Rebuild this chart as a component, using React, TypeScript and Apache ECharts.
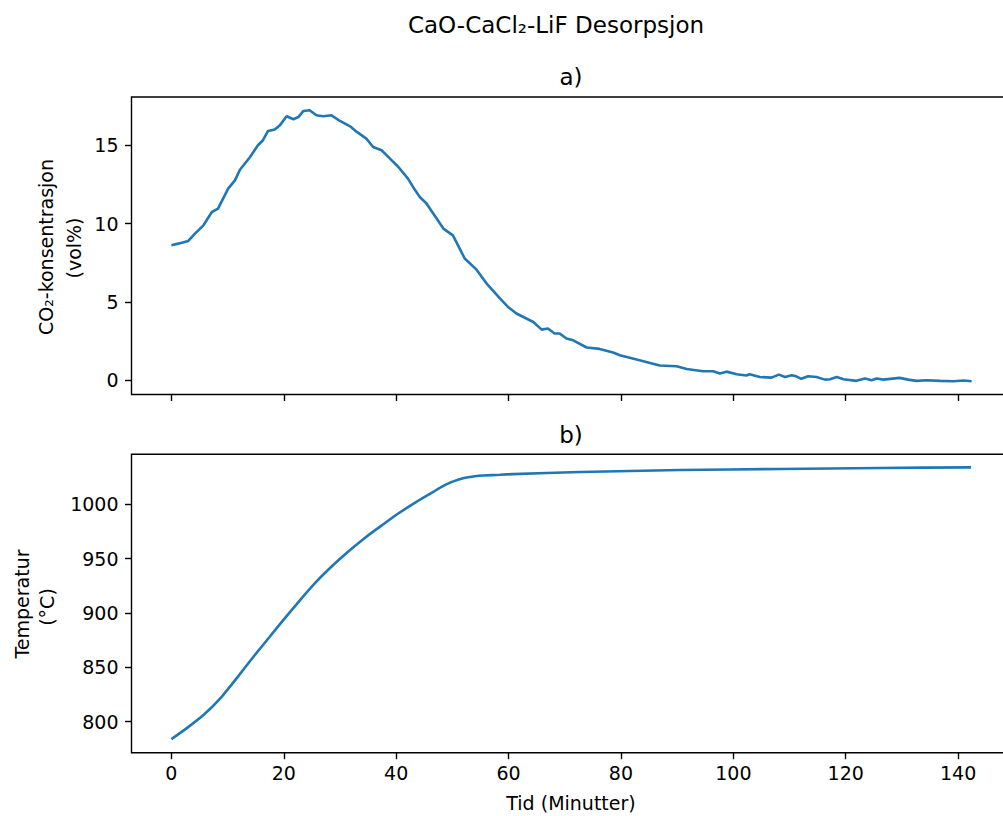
import React, { useEffect, useRef } from "react";
import * as echarts from "echarts";

// CO2 concentration (vol%) vs time (min)
const concTime = [
  0, 1.2, 3.0, 4.2, 5.7, 7.2, 8.3, 10.1, 11.3, 12.2, 14.0, 15.4, 16.3, 17.2, 18.4, 19.3,
  20.5, 21.7, 22.6, 23.5, 24.6, 25.8, 27.0, 28.5, 30.0, 31.8, 33.0, 34.7, 35.9, 37.4, 38.9,
  40.4, 42.1, 43.0, 44.2, 45.4, 46.2, 47.2, 48.4, 50.1, 52.2, 54.3, 56.1, 58.5, 59.9, 61.4,
  64.4, 65.9, 67.0, 68.2, 69.1, 70.3, 71.5, 73.9, 76.2, 78.6, 79.8, 82.8, 85.7, 86.9, 89.9,
  91.7, 94.6, 96.4, 97.6, 98.8, 100.6, 102.3, 102.9, 104.7, 106.8, 108.1, 109.2, 110.4,
  111.2, 112.1, 113.3, 114.8, 116.3, 117.2, 118.4, 119.6, 121.9, 123.4, 124.6, 125.5, 126.7,
  129.6, 131.1, 132.6, 134.4, 136.8, 139.2, 141.0, 142.4,
];
const concValue = [
  8.62, 8.72, 8.89, 9.36, 9.89, 10.74, 10.95, 12.23, 12.76, 13.44, 14.25, 15.0, 15.32, 15.91, 16.0, 16.27,
  16.85, 16.66, 16.8, 17.19, 17.23, 16.91, 16.85, 16.91, 16.55, 16.21, 15.85, 15.42, 14.89, 14.68, 14.15,
  13.61, 12.87, 12.34, 11.7, 11.28, 10.85, 10.32, 9.68, 9.25, 7.77, 7.06, 6.17, 5.21, 4.68, 4.26,
  3.72, 3.23, 3.3, 2.98, 2.98, 2.66, 2.55, 2.09, 2.0, 1.77, 1.6, 1.32, 1.06, 0.94, 0.89,
  0.72, 0.57, 0.57, 0.43, 0.55, 0.38, 0.3, 0.38, 0.21, 0.17, 0.36, 0.21, 0.32,
  0.25, 0.09, 0.26, 0.21, 0.04, 0.06, 0.21, 0.06, -0.04, 0.11, 0.0, 0.11, 0.04,
  0.15, 0.04, -0.04, 0.0, -0.04, -0.06, -0.02, -0.06,
];

// Temperature (°C) vs time (min)
const tempTime = [
  0, 2.7, 5.7, 8.7, 11.6, 14.6, 17.5, 19.9, 22.9, 25.8, 28.8, 31.8, 34.7, 37.7, 40.1,
  43.6, 46.6, 48.0, 49.6, 51.0, 52.5, 54.0, 55.5, 58.5, 60.8, 72.7, 90.5, 108.3, 126.1, 142.3,
];
const tempValue = [
  784.0, 793.9, 806.1, 821.5, 839.9, 859.8, 878.2, 893.5, 911.9, 928.8, 944.1, 957.9, 970.2, 981.6, 990.6,
  1002.2, 1011.4, 1015.8, 1019.9, 1022.6, 1024.6, 1025.8, 1026.5, 1027.2, 1027.8, 1029.7, 1031.6, 1032.5, 1033.4, 1034.0,
];

const xTicks = [0, 20, 40, 60, 80, 100, 120, 140];
const concTicks = [0, 5, 10, 15];
const tempTicks = [800, 850, 900, 950, 1000];

const FONT = "DejaVu Sans";
const LINE = "#1f77b4";

export default function App() {
  const ref = useRef<HTMLDivElement>(null);

  useEffect(() => {
    if (!ref.current) return;
    const chart = echarts.init(ref.current, null, { renderer: "svg" });

    const fmt = (v: number) => String(v);

    const xCommon = (gridIndex: number, showLabels: boolean) => ({
      type: "value",
      gridIndex,
      min: -7.1,
      max: 149.5,
      splitLine: { show: false },
      axisLine: { show: false, onZero: false },
      axisTick: {
        show: true,
        customValues: xTicks,
        length: 6.5,
        lineStyle: { color: "#000", width: 1.4 },
      },
      axisLabel: {
        show: showLabels,
        customValues: xTicks,
        formatter: fmt,
        fontSize: 19,
        fontFamily: FONT,
        color: "#000",
        margin: 11,
      },
    });

    const yCommon = (gridIndex: number, min: number, max: number, ticks: number[]) => ({
      type: "value",
      gridIndex,
      min,
      max,
      splitLine: { show: false },
      axisLine: { show: false, onZero: false },
      axisTick: {
        show: true,
        customValues: ticks,
        length: 6.5,
        lineStyle: { color: "#000", width: 1.4 },
      },
      axisLabel: {
        show: true,
        customValues: ticks,
        formatter: fmt,
        fontSize: 19,
        fontFamily: FONT,
        color: "#000",
        margin: 13,
      },
    });

    const textEl = (text: string, x: number, y: number, size: number, rot = 0) => ({
      type: "text",
      x,
      y,
      rotation: rot,
      style: {
        text,
        fontSize: size,
        fontFamily: FONT,
        fill: "#000",
        textAlign: "center",
        textVerticalAlign: "middle",
      },
    });

    chart.setOption({
      animation: false,
      backgroundColor: "#fff",
      grid: [
        {
          left: 131.5,
          top: 97,
          width: 880,
          height: 297.5,
          show: true,
          borderColor: "#000",
          borderWidth: 1.4,
          backgroundColor: "transparent",
        },
        {
          left: 131.5,
          top: 454.3,
          width: 880,
          height: 298.4,
          show: true,
          borderColor: "#000",
          borderWidth: 1.4,
          backgroundColor: "transparent",
        },
      ],
      xAxis: [xCommon(0, false), xCommon(1, true)],
      yAxis: [
        yCommon(0, -0.91, 18.08, concTicks),
        yCommon(1, 771.5, 1046, tempTicks),
      ],
      series: [
        {
          type: "line",
          xAxisIndex: 0,
          yAxisIndex: 0,
          data: concTime.map((t, i) => [t, concValue[i]]),
          showSymbol: false,
          lineStyle: { color: LINE, width: 2.6 },
          z: 3,
        },
        {
          type: "line",
          xAxisIndex: 1,
          yAxisIndex: 1,
          data: tempTime.map((t, i) => [t, tempValue[i]]),
          showSymbol: false,
          smooth: 0.15,
          lineStyle: { color: LINE, width: 2.6 },
          z: 3,
        },
      ],
      graphic: [
        textEl("CaO-CaCl₂-LiF Desorpsjon", 556, 25, 23),
        textEl("a)", 571, 77, 23),
        textEl("b)", 571, 435, 23),
        textEl("Tid (Minutter)", 571, 803, 19),
        textEl("CO₂-konsentrasjon", 46, 247, 19, Math.PI / 2),
        textEl("(vol%)", 74, 248, 19, Math.PI / 2),
        textEl("Temperatur", 21.5, 604, 19, Math.PI / 2),
        textEl("(°C)", 47, 607, 19, Math.PI / 2),
      ],
    });

    return () => chart.dispose();
  }, []);

  return (
    <div
      style={{
        position: "fixed",
        left: 0,
        top: 0,
        width: 1003,
        height: 816,
        overflow: "hidden",
        background: "#fff",
      }}
    >
      <div ref={ref} style={{ width: 1020, height: 816 }} />
    </div>
  );
}
